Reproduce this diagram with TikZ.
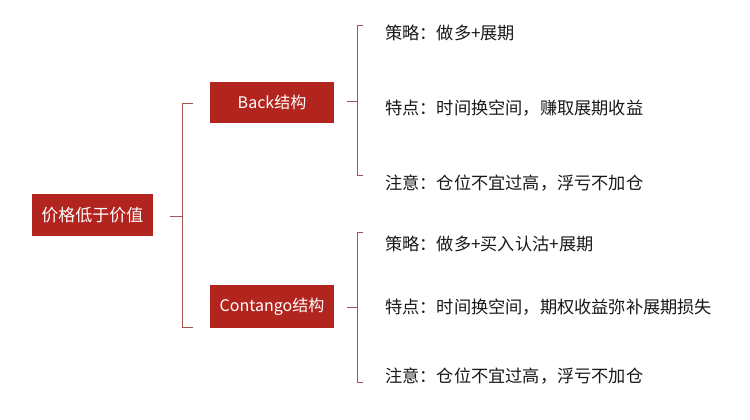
\documentclass[tikz,border=0pt]{standalone}
\usepackage{fontspec}
\setmainfont{Noto Sans CJK SC}
\definecolor{boxred}{RGB}{178,36,30}
\definecolor{bracered}{RGB}{165,85,80}
\definecolor{leaftext}{RGB}{25,25,25}
\tikzset{
  redbox/.style={fill=boxred, text=white, inner sep=0pt, anchor=center},
  leaf/.style={anchor=west, inner sep=0pt, text=leaftext, font=\fontsize{17.2}{19}\selectfont},
  bracket/.style={draw=bracered, line width=0.9pt}
}
\begin{document}
\begin{tikzpicture}[x=1pt,y=-1pt]
\useasboundingbox (0,0) rectangle (750,420);
\fill[white] (0,0) rectangle (750,420);
% boxes
\node[redbox, minimum width=121pt, minimum height=42pt, font=\fontsize{17}{19}\selectfont] (root) at (92.5,215) {价格低于价值};
\node[redbox, minimum width=124pt, minimum height=41pt, font=\fontsize{16}{18}\selectfont] (back) at (272,102.5) {Back结构};
\node[redbox, minimum width=124pt, minimum height=43pt, font=\fontsize{16}{18}\selectfont] (cont) at (272,306.5) {Contango结构};
% leaves
\node[leaf] (b1) at (385,33) {策略：做多+展期};
\node[leaf] (b2) at (385,108) {特点：时间换空间，赚取展期收益};
\node[leaf] (b3) at (385,183.5) {注意：仓位不宜过高，浮亏不加仓};
\node[leaf] (c1) at (385,244) {策略：做多+买入认沽+展期};
\node[leaf] (c2) at (385,307.5) {特点：时间换空间，期权收益弥补展期损失};
\node[leaf] (c3) at (385,376) {注意：仓位不宜过高，浮亏不加仓};
% brackets
\coordinate (k1) at (182,216);
\draw[bracket] (193,103) -- (182,103) -- (182,327) -- (193,327);
\draw[bracket] ([xshift=17pt]root.east |- k1) -- (k1);
\coordinate (k2) at (357,101);
\draw[bracket] (363,25) -- (357,25) -- (357,175) -- (363,175);
\draw[bracket] ([xshift=13pt]back.east |- k2) -- (k2);
\coordinate (k3) at (357,307);
\draw[bracket] (363,232) -- (357,232) -- (357,382) -- (363,382);
\draw[bracket] ([xshift=13pt]cont.east |- k3) -- (k3);
\end{tikzpicture}
\end{document}
